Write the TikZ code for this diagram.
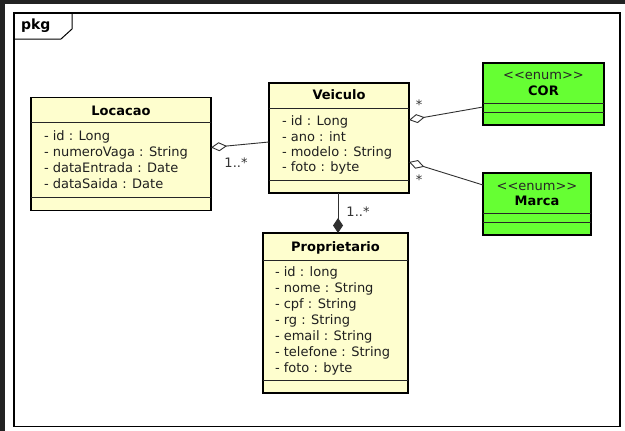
\documentclass[tikz,border=0pt]{standalone}
\usepackage{fontspec}
\setmainfont{DejaVu Sans}
\usetikzlibrary{arrows.meta,calc}
\definecolor{classfill}{HTML}{FEFECE}
\definecolor{enumfill}{HTML}{66FF33}
\definecolor{darkstrip}{HTML}{222222}
\definecolor{linegray}{HTML}{303030}
\newcommand{\stereo}[1]{<\kern0pt<\kern0pt#1\kern0pt>\kern0pt>}
\begin{document}
\begin{tikzpicture}[x=1pt,y=-1pt,
  every node/.style={inner sep=0pt,outer sep=0pt},
  txt/.style={font=\fontsize{13}{15}\selectfont,text height=9.5pt,text depth=2.5pt},
  attr/.style={txt,anchor=west,text=black!88},
  ttl/.style={txt,font=\fontsize{13}{15}\selectfont\bfseries},
  classbox/.style={draw=black,line width=1.8pt,fill=classfill,anchor=north west},
  enumbox/.style={draw=black,line width=1.8pt,fill=enumfill,anchor=north west},
  sep/.style={draw=black!85,line width=1pt},
  assoc/.style={draw=linegray,line width=0.9pt},
  lbl/.style={txt,text=black!80}]
\useasboundingbox (0,0) rectangle (625,431);
\fill[white] (0,0) rectangle (625,431);
\fill[darkstrip] (0,0) rectangle (625,3.5);
\fill[darkstrip] (0,0) rectangle (4.5,431);
% package frame
\draw[black,line width=1.3pt] (14,13) rectangle (620,426.5);
\draw[black,line width=1pt] (14,39) -- (61,39) -- (72,29) -- (72,13);
\node[font=\fontsize{14}{16}\selectfont\bfseries,anchor=west] (pkg) at (21,26) {pkg};
% Locacao
\node[classbox,minimum width=180pt,minimum height=113pt] (loc) at (31,97.5) {};
\draw[sep] (31,122.5) -- (211,122.5);
\draw[sep] (31,197) -- (211,197);
\node[ttl] (loct) at (121,112) {Locacao};
\node[attr] (loca1) at (44,137) {- id : Long};
\node[attr] (loca2) at (44,153) {- numeroVaga : String};
\node[attr] (loca3) at (44,169) {- dataEntrada : Date};
\node[attr] (loca4) at (44,184.5) {- dataSaida : Date};
% Veiculo
\node[classbox,minimum width=140pt,minimum height=110pt] (veic) at (269,83) {};
\draw[sep] (269,108) -- (409,108);
\draw[sep] (269,180.5) -- (409,180.5);
\node[ttl] (veict) at (339,96) {Veiculo};
\node[attr] (veica1) at (282,122) {- id : Long};
\node[attr] (veica2) at (282,137.5) {- ano : int};
\node[attr] (veica3) at (282,153) {- modelo : String};
\node[attr] (veica4) at (282,168) {- foto : byte};
% COR
\node[enumbox,minimum width=121pt,minimum height=62pt] (cor) at (483,63) {};
\draw[sep] (483,103.5) -- (604,103.5);
\draw[sep] (483,112.5) -- (604,112.5);
\node[txt,text=black!85] (corst) at (543.5,76) {\stereo{enum}};
\node[ttl] (cort) at (543.5,91.5) {COR};
% Marca
\node[enumbox,minimum width=108pt,minimum height=62pt] (marca) at (483,173) {};
\draw[sep] (483,213.5) -- (591,213.5);
\draw[sep] (483,222.5) -- (591,222.5);
\node[txt,text=black!85] (marcast) at (537,187) {\stereo{enum}};
\node[ttl] (marcat) at (537,202) {Marca};
% Proprietario
\node[classbox,minimum width=145pt,minimum height=160pt] (prop) at (263,233) {};
\draw[sep] (263,260.5) -- (408,260.5);
\draw[sep] (263,380.5) -- (408,380.5);
\node[ttl] (propt) at (335.5,247.5) {Proprietario};
\node[attr] (propa1) at (275,273) {- id : long};
\node[attr] (propa2) at (275,289) {- nome : String};
\node[attr] (propa3) at (275,305) {- cpf : String};
\node[attr] (propa4) at (275,321) {- rg : String};
\node[attr] (propa5) at (275,337) {- email : String};
\node[attr] (propa6) at (275,353) {- telefone : String};
\node[attr] (propa7) at (275,368.5) {- foto : byte};
% connectors
\draw[assoc,-{Diamond[open,length=16pt,width=9pt,line width=0.9pt]}]
  ([yshift=-4pt]veic.west) -- ([yshift=6.5pt]loc.east);
\draw[assoc,-{Diamond[open,length=16pt,width=9pt,line width=0.9pt]}]
  ([yshift=-13pt]cor.west) -- ([yshift=18pt]veic.east);
\draw[assoc,-{Diamond[open,length=16pt,width=9pt,line width=0.9pt]}]
  ([yshift=19pt]marca.west) -- ([yshift=-24pt]veic.east);
\draw[assoc,-{Diamond[length=15pt,width=10pt]}]
  ([xshift=-1pt]veic.south) -- ([xshift=-1pt]veic.south |- prop.north);
% labels
\node[lbl] (l1) at (236,164) {1..*};
\node[lbl] (l2) at (419,106) {*};
\node[lbl] (l3) at (419,181) {*};
\node[lbl] (l4) at (358,213) {1..*};
\end{tikzpicture}
\end{document}
